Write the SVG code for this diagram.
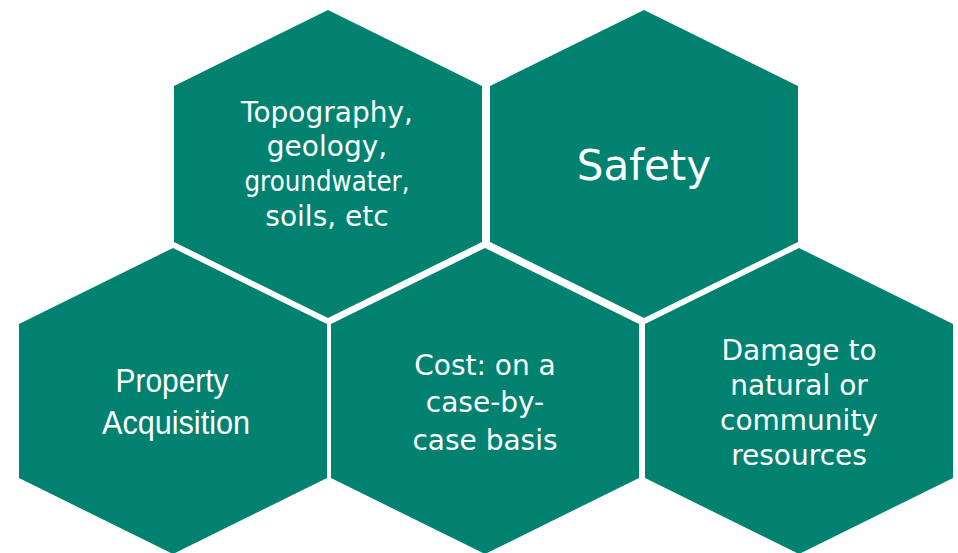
<svg xmlns="http://www.w3.org/2000/svg" width="958" height="553" viewBox="0 0 958 553">
<style>
.hex{fill:#018271;}
.t{fill:#ffffff;font-family:"DejaVu Sans","Liberation Sans",sans-serif;font-size:28px;text-anchor:middle;}
.big{font-size:42px;}
.narrow{font-family:"Liberation Sans","DejaVu Sans",sans-serif;font-size:33px;}
</style>
<rect width="958" height="553" fill="#ffffff"/>
<g id="connectors"></g>
<g id="hex-topography">
<polygon class="hex" points="328,10 482,86 482,242 328,318 174,242 174,86"/>
<text class="t" x="327" y="122">Topography,</text>
<text class="t" x="327" y="156">geology,</text>
<text class="t" x="327" y="191" textLength="165" lengthAdjust="spacingAndGlyphs">groundwater,</text>
<text class="t" x="327" y="226">soils, etc</text>
</g>
<g id="hex-safety">
<polygon class="hex" points="644,10 798,86 798,242 644,318 490,242 490,86"/>
<text class="t big" x="644" y="180">Safety</text>
</g>
<g id="hex-property">
<polygon class="hex" points="173,248 327,324 327,478 173,554 19,478 19,324"/>
<text class="t narrow" x="172" y="392" textLength="113" lengthAdjust="spacingAndGlyphs">Property</text>
<text class="t narrow" x="176" y="434" textLength="148" lengthAdjust="spacingAndGlyphs">Acquisition</text>
</g>
<g id="hex-cost">
<polygon class="hex" points="485,248 639,324 639,478 485,554 331,478 331,324"/>
<text class="t" x="485" y="375">Cost: on a</text>
<text class="t" x="485" y="412">case-by-</text>
<text class="t" x="485" y="450">case basis</text>
</g>
<g id="hex-damage">
<polygon class="hex" points="799,248 953,324 953,478 799,554 645,478 645,324"/>
<text class="t" x="799" y="360">Damage to</text>
<text class="t" x="799" y="395">natural or</text>
<text class="t" x="799" y="430">community</text>
<text class="t" x="799" y="465">resources</text>
</g>
</svg>
